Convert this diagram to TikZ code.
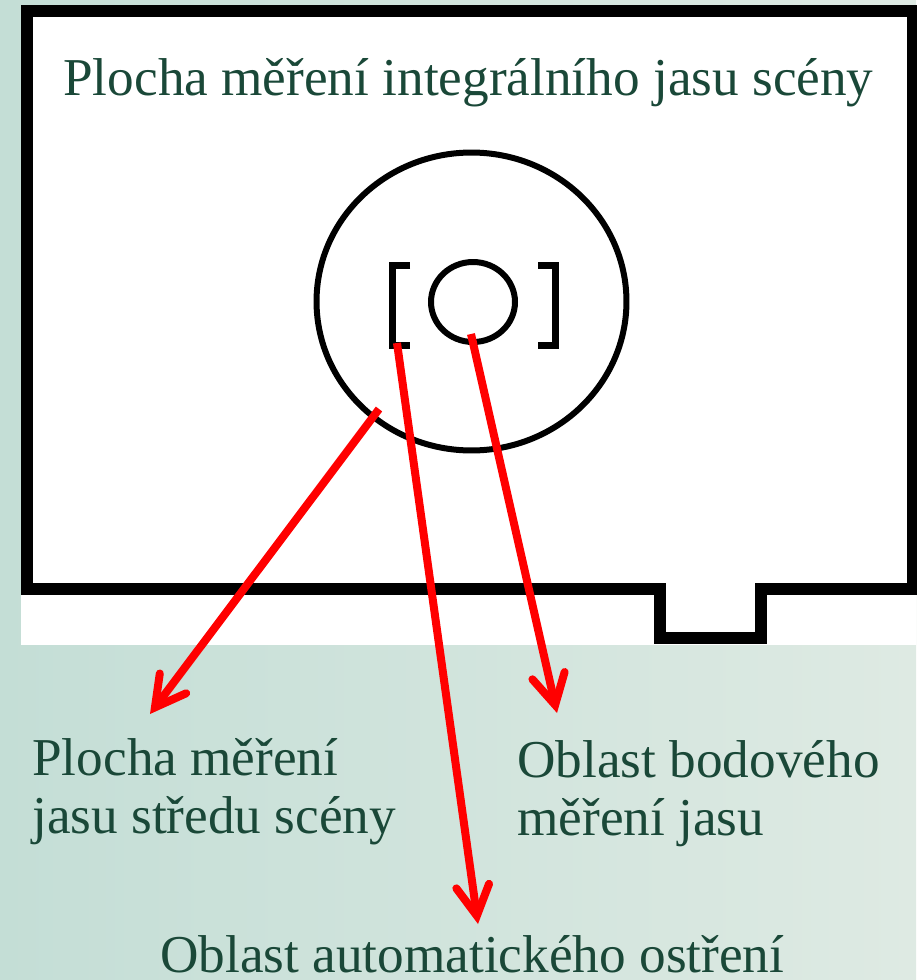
\documentclass[tikz,border=0pt]{standalone}
\usepackage{fontspec}
\setmainfont{Liberation Serif}
\usetikzlibrary{arrows.meta,shapes.geometric}
\definecolor{labelgreen}{RGB}{26,72,56}
\definecolor{bgleft}{RGB}{196,222,214}
\definecolor{bgright}{RGB}{222,234,227}
\begin{document}
\begin{tikzpicture}[x=0.02cm,y=-0.02cm]

      \tikzset{caption/.style={text=labelgreen, font=\fontsize{30.3}{33}\selectfont, inner sep=0pt, anchor=base west, align=left},
               ring/.style={draw, line width=0.12cm, ellipse, inner sep=0pt, outer sep=0pt},
               pointer/.style={draw=red, line width=0.16cm, -{Straight Barb[line cap=round, length=0.6cm, width=0.66cm]}}}
%% Background and viewfinder frame
      	\shade[left color=bgleft, right color=bgright] (0,0) rectangle (916,980);
      	\useasboundingbox (0,0) rectangle (916,980);
      	\fill[white] (21,5) rectangle (916,645);
      	\draw[line width=0.24cm, line join=miter] (913,11) -- (27,11) -- (27,589) -- (660,589) -- (660,638) -- (761,638) -- (761,589) -- (913,589) -- cycle;
%% Metering zones
      	\node[ring, minimum width=6.2cm, minimum height=5.96cm] (field) at (471.5,301.5) {};
      	\node[ring, minimum width=1.68cm, minimum height=1.6cm] (spot) at (473,302) {};
      	\draw[line width=0.14cm] (410,265) -| (392,345) -- (410,345);
      	\draw[line width=0.14cm] (538,265) -| (555,345) -- (538,345);
%% Arrow ends
      	\coordinate (ringfoot) at (379,409);
      	\coordinate (afcorner) at (397,343);
      	\coordinate (spotfoot) at (471,334);
      	\coordinate (tipring) at (150,714);
      	\coordinate (tipaf) at (478,924);
      	\coordinate (tipspot) at (557,713);
%% Labels
      	\node[caption] (title) at (63,95) {Plocha měření integrálního jasu scény};
      	\node[caption] (centrelbl) at (32,833) {Plocha měření\\jasu středu scény};
      	\node[caption] (spotlbl) at (517,835) {Oblast bodového\\měření jasu};
      	\node[caption] (aflbl) at (160,972) {Oblast automatického ostření};
%Arrows
		\draw[pointer] (ringfoot) -- (tipring);
		\draw[pointer] (afcorner) -- (tipaf);
		\draw[pointer] (spotfoot) -- (tipspot);

	\end{tikzpicture}
\end{document}
